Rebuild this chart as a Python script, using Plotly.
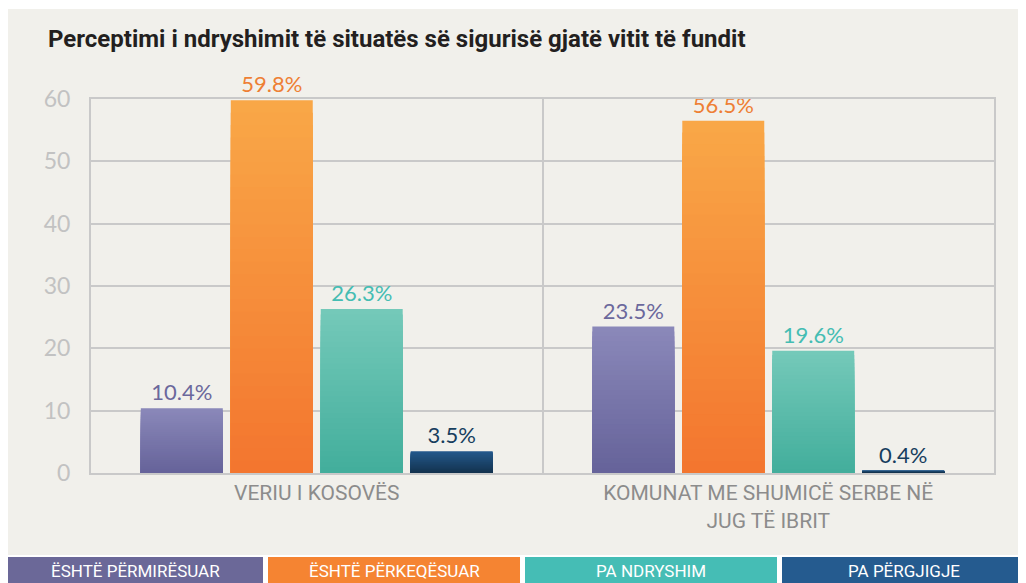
import plotly.graph_objects as go

title = "Perceptimi i ndryshimit të situatës së sigurisë gjatë vitit të fundit"
categories = ["VERIU I KOSOVËS", "KOMUNAT ME SHUMICË SERBE NË<br>JUG TË IBRIT"]
series_names = ["ËSHTË PËRMIRËSUAR", "ËSHTË PËRKEQËSUAR", "PA NDRYSHIM", "PA PËRGJIGJE"]
improved = [10.4, 23.5]
worsened = [59.8, 56.5]
no_change = [26.3, 19.6]
no_answer = [3.5, 0.4]
y_ticks = [0, 10, 20, 30, 40, 50, 60]

series_values = [improved, worsened, no_change, no_answer]
# (top colour, bottom colour) of each bar's vertical gradient
grad_colors = [("#8a88b9", "#66639a"), ("#f9a747", "#f3762f"),
               ("#74c9b9", "#43ae9c"), ("#24598c", "#13334f")]
text_colors = ["#6b689c", "#ee7f34", "#45bdb3", "#173e5e"]
legend_colors = ["#6b6898", "#f58432", "#45bdb5", "#255b8f"]
STEPS = 30


def hex_to_rgb(h):
    h = h.lstrip("#")
    return tuple(int(h[i:i + 2], 16) for i in (0, 2, 4))


def mix(c1, c2, t):
    a, b = hex_to_rgb(c1), hex_to_rgb(c2)
    return "rgb(%d,%d,%d)" % tuple(round(a[i] + (b[i] - a[i]) * t) for i in range(3))


fig = go.Figure()
for gi, (name, vals, (ctop, cbot), tc) in enumerate(zip(series_names, series_values, grad_colors, text_colors)):
    # full-height bar carrying the label, then shorter overlays shading toward the bottom colour
    for k in range(STEPS):
        frac = 1 - k / STEPS
        first = k == 0
        fig.add_trace(go.Bar(
            x=categories, y=[v * frac for v in vals], name=name,
            offsetgroup=str(gi),
            marker=dict(color=mix(ctop, cbot, k / (STEPS - 1)), line=dict(width=0)),
            text=[f"{v:.1f}%" for v in vals] if first else None,
            textposition="outside" if first else "none",
            textfont=dict(family="Lato, Roboto, sans-serif", size=22, color=tc),
            cliponaxis=False,
            showlegend=False,
            hoverinfo="skip" if not first else None,
        ))

grid = "#c9c9c9"
W, H = 1018, 575
L, R, T, B = 83, 32, 91, 110
fig.update_layout(
    width=W, height=H,
    margin=dict(l=L, r=R, t=T, b=B),
    paper_bgcolor="#ffffff",
    plot_bgcolor="rgba(0,0,0,0)",
    barmode="group",
    bargap=0.203,
    bargroupgap=0.089,
    title=dict(
        text=f"<b>{title}</b>",
        x=40 / W, xref="container", xanchor="left",
        y=1 - 31 / H, yref="container", yanchor="middle",
        font=dict(family="Liberation Sans Narrow, Roboto, sans-serif", size=24, color="#231f20"),
    ),
    xaxis=dict(
        tickson="boundaries", showgrid=True, gridcolor=grid, gridwidth=1.5,
        showline=True, linecolor=grid, linewidth=2, mirror=True,
        ticks="", ticklen=0,
        tickfont=dict(family="Liberation Sans Narrow, Roboto, sans-serif", size=21, color="#8c8c8c"),
    ),
    yaxis=dict(
        range=[0, 60], tickvals=y_ticks, ticktext=[str(t) for t in y_ticks],
        showgrid=True, gridcolor=grid, gridwidth=1.5,
        showline=True, linecolor=grid, linewidth=2, mirror=True,
        zeroline=False, ticks="", ticklabelstandoff=14,
        tickfont=dict(family="Lato, Roboto, sans-serif", size=23, color="#c2c2c2"),
    ),
)

PW, PH = W - L - R, H - T - B


def px_x(p):
    return (p - L) / PW


def px_y(p):
    return (H - B - p) / PH


shapes = [dict(type="rect", xref="paper", yref="paper", layer="below",
               x0=px_x(-2), x1=px_x(W + 2), y0=px_y(547), y1=px_y(1),
               fillcolor="#f1f0eb", line=dict(width=0))]
box_edges = [(-2, 255), (260, 512), (517, 769), (774, W + 2)]
annotations = []
for (a, b), col, name in zip(box_edges, legend_colors, series_names):
    shapes.append(dict(type="rect", xref="paper", yref="paper",
                       x0=px_x(a), x1=px_x(b), y0=px_y(H + 2), y1=px_y(549),
                       fillcolor=col, line=dict(width=0)))
    annotations.append(dict(xref="paper", yref="paper", x=px_x((max(a, 0) + min(b, W)) / 2),
                            y=px_y(563), text=name, showarrow=False,
                            xanchor="center", yanchor="middle",
                            font=dict(family="Liberation Sans Narrow, Roboto, sans-serif", size=17, color="#ffffff")))
fig.update_layout(shapes=shapes, annotations=annotations)

fig.write_html("out.html")
